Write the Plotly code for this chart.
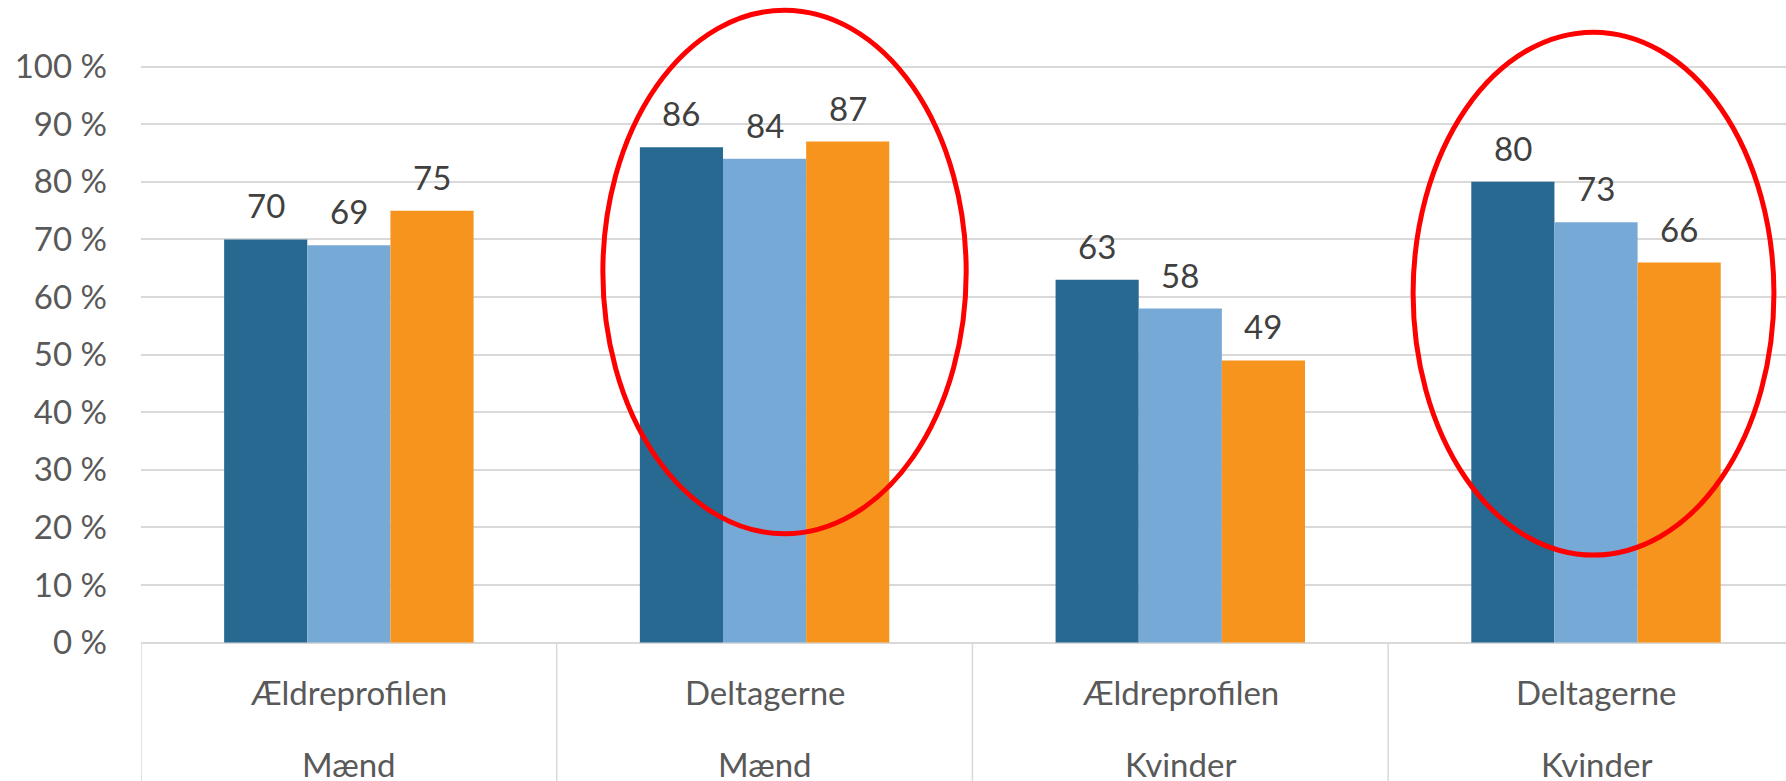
import plotly.graph_objects as go

# Category labels (two levels) and series values in percent
groups = ["Ældreprofilen", "Deltagerne", "Ældreprofilen", "Deltagerne"]
genders = ["Mænd", "Mænd", "Kvinder", "Kvinder"]
series_names = ["Serie 1", "Serie 2", "Serie 3"]
serie_1 = [70, 86, 63, 80]
serie_2 = [69, 84, 58, 73]
serie_3 = [75, 87, 49, 66]
y_ticks = [0, 10, 20, 30, 40, 50, 60, 70, 80, 90, 100]
y_tick_labels = [f"{v} %" for v in y_ticks]

# Highlight ellipses (category-index x, percent y)
highlight_boxes = [
    dict(x0=0.611, x1=1.485, y0=18.9, y1=109.8),
    dict(x0=2.560, x1=3.428, y0=15.2, y1=106.0),
]

colors = ["#276991", "#77A9D6", "#F7941E"]
FONT = "Lato"
TEXT_GREY = "#595959"
LABEL_GREY = "#404040"
GRID = "#D9D9D9"

x_pos = list(range(len(groups)))
series = [serie_1, serie_2, serie_3]
bar_w = 0.2
offsets = [-bar_w, 0.0, bar_w]

Y_MIN, Y_MAX = -24.03, 111.58

fig = go.Figure()
for name, vals, col in zip(series_names, series, colors):
    fig.add_trace(go.Bar(
        x=x_pos, y=vals, name=name,
        marker=dict(color=col, line=dict(width=0)),
        hoverinfo="skip",
    ))

annotations = []
# value labels above each bar
for vals, off in zip(series, offsets):
    for xi, v in zip(x_pos, vals):
        annotations.append(dict(
            x=xi + off, y=v, xref="x", yref="y",
            text=str(v), showarrow=False,
            yanchor="bottom", xanchor="center", yshift=12,
            font=dict(family=FONT, size=33, color=LABEL_GREY),
        ))
# two-level category labels under the axis
for xi, g, s in zip(x_pos, groups, genders):
    annotations.append(dict(
        x=xi, y=-8.6, xref="x", yref="y", text=g, showarrow=False,
        yanchor="middle", xanchor="center",
        font=dict(family=FONT, size=33, color=TEXT_GREY),
    ))
    annotations.append(dict(
        x=xi, y=-21.1, xref="x", yref="y", text=s, showarrow=False,
        yanchor="middle", xanchor="center",
        font=dict(family=FONT, size=33, color=TEXT_GREY),
    ))

shapes = []
# category separators below the zero line
for xi in x_pos:
    shapes.append(dict(
        type="line", xref="x", yref="y",
        x0=xi - 0.5, x1=xi - 0.5, y0=0, y1=Y_MIN,
        line=dict(color=GRID, width=1.5), layer="below",
    ))
for b in highlight_boxes:
    shapes.append(dict(
        type="circle", xref="x", yref="y", **b,
        line=dict(color="#FF0000", width=5), fillcolor="rgba(0,0,0,0)",
        layer="above",
    ))

fig.update_layout(
    width=1786, height=781,
    margin=dict(l=141, r=0, t=0, b=0, pad=0),
    paper_bgcolor="white", plot_bgcolor="white",
    barmode="group", bargap=0.4, bargroupgap=0,
    showlegend=False,
    annotations=annotations, shapes=shapes,
    font=dict(family=FONT),
)
fig.update_xaxes(
    range=[-0.5, 3.457], showticklabels=False, showgrid=False,
    zeroline=False, showline=False, ticks="",
)
fig.update_yaxes(
    range=[Y_MIN, Y_MAX], tickvals=y_ticks, ticktext=y_tick_labels,
    showgrid=True, gridcolor=GRID, gridwidth=1.5,
    zeroline=False, showline=False, ticks="",
    tickfont=dict(family=FONT, size=33, color=TEXT_GREY),
    ticklabelstandoff=33,
)

fig.write_html("out.html")
